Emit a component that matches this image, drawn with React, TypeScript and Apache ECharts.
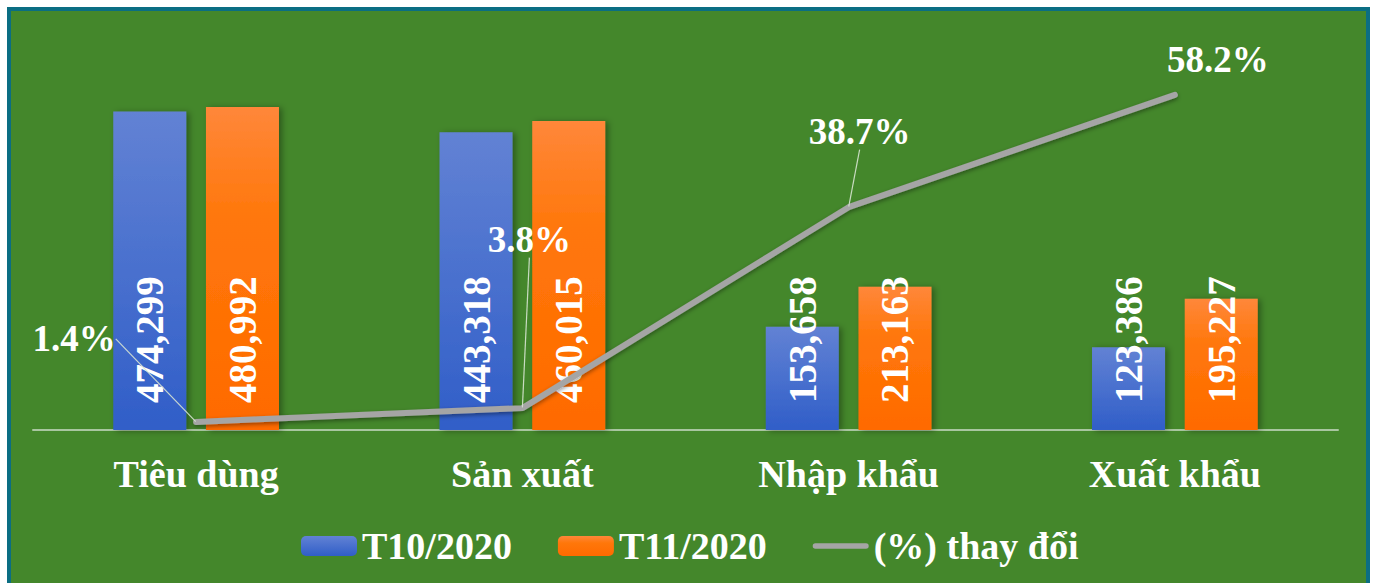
import React, { useEffect, useRef } from "react";
import * as echarts from "echarts";

const categories = ["Tiêu dùng", "Sản xuất", "Nhập khẩu", "Xuất khẩu"];
const t10 = [474299, 443318, 153658, 123386];
const t11 = [480992, 460015, 213163, 195227];
const change = [1.4, 3.8, 38.7, 58.2];
const seriesNames = ["T10/2020", "T11/2020", "(%) thay đổi"];

// label offsets (label centre relative to its point) for the % labels
const pctLabelOffsets = [
  [-122, -83],
  [7, -169],
  [11, -76],
  [43, -35],
];
const pctLeaderShown = [true, true, true, false];

const FONT = "'Liberation Serif', 'Times New Roman', serif";
const LINE_ICON = "path://M3,0 L59,0 A3,3 0 0 1 59,6 L3,6 A3,3 0 0 1 3,0 Z";

export default function App() {
  const ref = useRef<HTMLDivElement>(null);
  useEffect(() => {
    if (!ref.current) return;
    const chart = echarts.init(ref.current, null, { renderer: "svg" });
    const barLabel = {
      show: true,
      position: "insideBottom",
      distance: 27,
      rotate: 90,
      align: "left",
      verticalAlign: "middle",
      color: "#ffffff",
      fontFamily: FONT,
      fontWeight: "bold",
      fontSize: 39,
      formatter: (p: any) => Number(p.value).toLocaleString("en-US"),
    };
    chart.setOption({
      animation: false,
      backgroundColor: "#ffffff",
      graphic: [
        {
          type: "rect",
          z: -10,
          silent: true,
          shape: { x: 9, y: 9, width: 1359, height: 600 },
          style: { fill: "#44872b", stroke: "#0b6e83", lineWidth: 4 },
        },
      ],
      grid: { left: 33, right: 37, top: 27, bottom: 153, containLabel: false },
      legend: {
        left: 301,
        top: 527,
        padding: 0,
        itemWidth: 56,
        itemHeight: 20,
        itemGap: 46,
        data: [
          { name: seriesNames[0] },
          { name: seriesNames[1] },
          { name: seriesNames[2], icon: LINE_ICON },
        ],
        textStyle: {
          color: "#ffffff",
          fontFamily: FONT,
          fontWeight: "bold",
          fontSize: 38,
        },
      },
      xAxis: {
        type: "category",
        data: categories,
        axisTick: { show: false },
        axisLine: { lineStyle: { color: "#a9c6a0", width: 2 } },
        axisLabel: {
          color: "#ffffff",
          fontFamily: FONT,
          fontWeight: "bold",
          fontSize: 38,
          margin: 25,
        },
      },
      yAxis: [
        { type: "value", min: 0, max: 600000, show: false, splitLine: { show: false } },
        { type: "value", min: 0, max: 70, show: false, splitLine: { show: false } },
      ],
      series: [
        {
          name: seriesNames[0],
          type: "bar",
          data: t10,
          barWidth: 73,
          barGap: "27%",
          itemStyle: {
            color: new echarts.graphic.LinearGradient(0, 0, 0, 1, [
              { offset: 0, color: "#6282d4" },
              { offset: 1, color: "#305ec8" },
            ]),
            shadowColor: "rgba(0,0,0,0.35)",
            shadowBlur: 6,
            shadowOffsetX: 3,
            shadowOffsetY: 1,
          },
          label: barLabel,
        },
        {
          name: seriesNames[1],
          type: "bar",
          data: t11,
          barWidth: 73,
          itemStyle: {
            color: new echarts.graphic.LinearGradient(0, 0, 0, 1, [
              { offset: 0, color: "#ff873a" },
              { offset: 0.35, color: "#ff770a" },
              { offset: 1, color: "#ff6a00" },
            ]),
            shadowColor: "rgba(0,0,0,0.35)",
            shadowBlur: 6,
            shadowOffsetX: 3,
            shadowOffsetY: 1,
          },
          label: barLabel,
        },
        {
          name: seriesNames[2],
          type: "line",
          yAxisIndex: 1,
          data: change.map((v, i) => ({
            value: v,
            labelLine: { show: pctLeaderShown[i] },
          })),
          z: 5,
          showSymbol: true,
          symbol: "circle",
          symbolSize: 1,
          itemStyle: { color: "#a5a5a5" },
          lineStyle: {
            color: "#a5a5a5",
            width: 6,
            cap: "round",
            shadowColor: "rgba(0,0,0,0.4)",
            shadowBlur: 4,
            shadowOffsetY: 2,
          },
          label: {
            show: true,
            position: "inside",
            color: "#ffffff",
            fontFamily: FONT,
            fontWeight: "bold",
            fontSize: 37,
            formatter: (p: any) => Number(p.value).toFixed(1) + "%",
          },
          labelLine: {
            show: true,
            lineStyle: { color: "rgba(215,228,210,0.9)", width: 1.2 },
          },
          labelLayout: (p: any) => {
            const o = pctLabelOffsets[p.dataIndex];
            return { dx: o[0], dy: o[1] };
          },
        },
      ],
    });
    return () => chart.dispose();
  }, []);
  return (
    <div style={{ position: "fixed", left: 0, top: 0, width: 1375, height: 583, background: "#fff" }}>
      <div ref={ref} style={{ width: 1375, height: 583 }} />
    </div>
  );
}
